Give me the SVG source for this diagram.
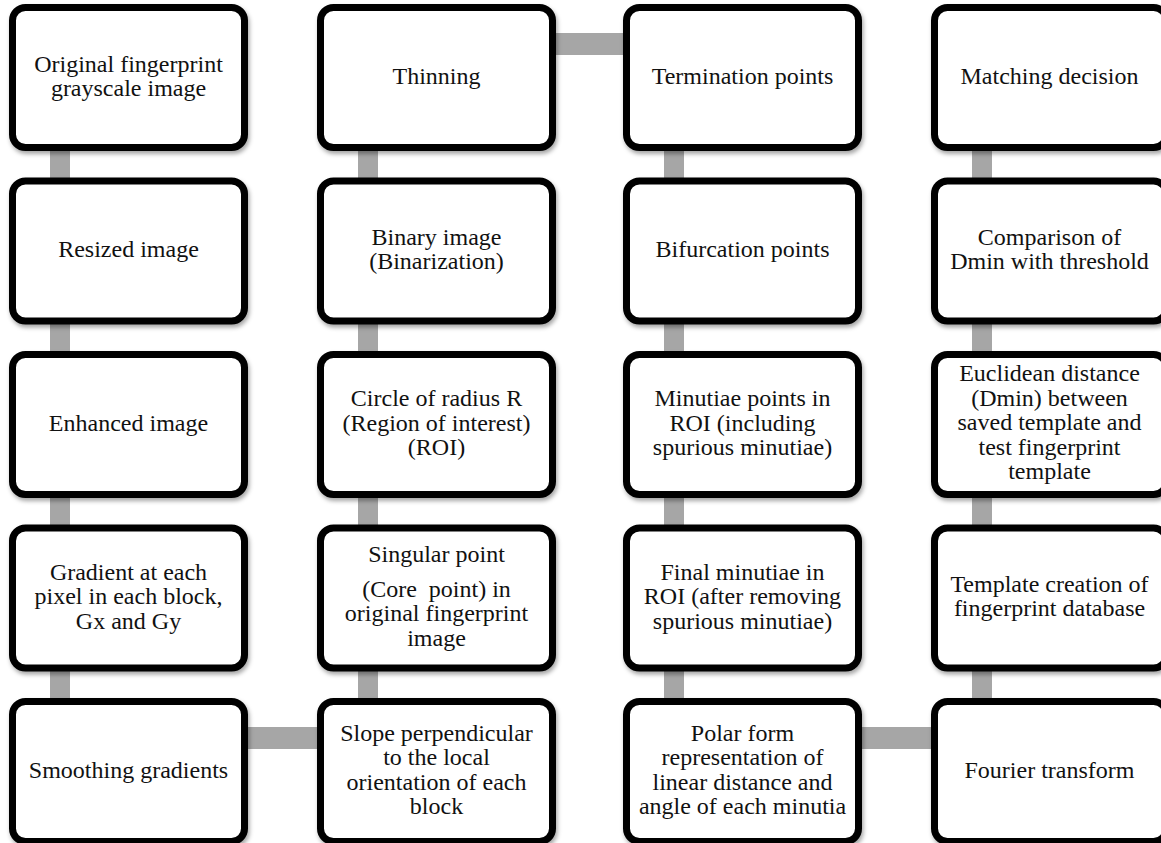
<svg xmlns="http://www.w3.org/2000/svg" width="1161" height="843" viewBox="0 0 1161 843">
<style>
.box{fill:#fff;stroke:#000;stroke-width:7}
.t{font-family:"Liberation Serif","Times New Roman",serif;font-size:24px;fill:#111;text-anchor:middle}
.c{fill:#a6a6a6}
</style>
<defs>
<filter id="sh" x="-10%" y="-10%" width="125%" height="130%">
<feDropShadow dx="1.5" dy="3" stdDeviation="2" flood-color="#000" flood-opacity="0.35"/>
</filter>
</defs>
<rect width="1161" height="843" fill="#fff"/>
<g id="connectors">
<rect class="c" x="50" y="144" width="20" height="41"/>
<rect class="c" x="50" y="318" width="20" height="40"/>
<rect class="c" x="50" y="491" width="20" height="41"/>
<rect class="c" x="50" y="665" width="20" height="40"/>
<rect class="c" x="358" y="144" width="20" height="41"/>
<rect class="c" x="358" y="318" width="20" height="40"/>
<rect class="c" x="358" y="491" width="20" height="41"/>
<rect class="c" x="358" y="665" width="20" height="40"/>
<rect class="c" x="664" y="144" width="20" height="41"/>
<rect class="c" x="664" y="318" width="20" height="40"/>
<rect class="c" x="664" y="491" width="20" height="41"/>
<rect class="c" x="664" y="665" width="20" height="40"/>
<rect class="c" x="972" y="144" width="20" height="41"/>
<rect class="c" x="972" y="318" width="20" height="40"/>
<rect class="c" x="972" y="491" width="20" height="41"/>
<rect class="c" x="972" y="665" width="20" height="40"/>
<rect class="c" x="550" y="33" width="78" height="22"/>
<rect class="c" x="244" y="727" width="78" height="22"/>
<rect class="c" x="858" y="727" width="78" height="22"/>
</g>
<g id="n11"><rect class="box" filter="url(#sh)" x="12.5" y="7.5" width="232" height="140" rx="13"/>
<text class="t"><tspan x="128.5" y="71.5">Original fingerprint</tspan><tspan x="128.5" y="96">grayscale image</tspan></text></g>
<g id="n21"><rect class="box" filter="url(#sh)" x="12.5" y="181" width="232" height="140" rx="13"/>
<text class="t" x="128.5" y="257">Resized image</text></g>
<g id="n31"><rect class="box" filter="url(#sh)" x="12.5" y="354.5" width="232" height="140" rx="13"/>
<text class="t" x="128.5" y="430.5">Enhanced image</text></g>
<g id="n41"><rect class="box" filter="url(#sh)" x="12.5" y="528" width="232" height="140" rx="13"/>
<text class="t"><tspan x="128.5" y="579.5">Gradient at each</tspan><tspan x="128.5" y="604">pixel in each block,</tspan><tspan x="128.5" y="628.5">Gx and Gy</tspan></text></g>
<g id="n51"><rect class="box" filter="url(#sh)" x="12.5" y="701.5" width="232" height="140" rx="13"/>
<text class="t" x="128.5" y="777.5">Smoothing gradients</text></g>

<g id="n12"><rect class="box" filter="url(#sh)" x="320.5" y="7.5" width="232" height="140" rx="13"/>
<text class="t" x="436.5" y="83.5">Thinning</text></g>
<g id="n22"><rect class="box" filter="url(#sh)" x="320.5" y="181" width="232" height="140" rx="13"/>
<text class="t"><tspan x="436.5" y="244.75">Binary image</tspan><tspan x="436.5" y="269.25">(Binarization)</tspan></text></g>
<g id="n32"><rect class="box" filter="url(#sh)" x="320.5" y="354.5" width="232" height="140" rx="13"/>
<text class="t"><tspan x="436.5" y="406">Circle of radius R</tspan><tspan x="436.5" y="430.5">(Region of interest)</tspan><tspan x="436.5" y="455">(ROI)</tspan></text></g>
<g id="n42"><rect class="box" filter="url(#sh)" x="320.5" y="528" width="232" height="140" rx="13"/>
<text class="t"><tspan x="436.5" y="562">Singular point</tspan><tspan x="436.5" y="596.5">(Core&#160; point) in</tspan><tspan x="436.5" y="621">original fingerprint</tspan><tspan x="436.5" y="645.5">image</tspan></text></g>
<g id="n52"><rect class="box" filter="url(#sh)" x="320.5" y="701.5" width="232" height="140" rx="13"/>
<text class="t"><tspan x="436.5" y="740.75">Slope perpendicular</tspan><tspan x="436.5" y="765.25">to the local</tspan><tspan x="436.5" y="789.75">orientation of each</tspan><tspan x="436.5" y="814.25">block</tspan></text></g>

<g id="n13"><rect class="box" filter="url(#sh)" x="626.5" y="7.5" width="232" height="140" rx="13"/>
<text class="t" x="742.5" y="83.5">Termination points</text></g>
<g id="n23"><rect class="box" filter="url(#sh)" x="626.5" y="181" width="232" height="140" rx="13"/>
<text class="t" x="742.5" y="257">Bifurcation points</text></g>
<g id="n33"><rect class="box" filter="url(#sh)" x="626.5" y="354.5" width="232" height="140" rx="13"/>
<text class="t"><tspan x="742.5" y="406">Minutiae points in</tspan><tspan x="742.5" y="430.5">ROI (including</tspan><tspan x="742.5" y="455">spurious minutiae)</tspan></text></g>
<g id="n43"><rect class="box" filter="url(#sh)" x="626.5" y="528" width="232" height="140" rx="13"/>
<text class="t"><tspan x="742.5" y="579.5">Final minutiae in</tspan><tspan x="742.5" y="604">ROI (after removing</tspan><tspan x="742.5" y="628.5">spurious minutiae)</tspan></text></g>
<g id="n53"><rect class="box" filter="url(#sh)" x="626.5" y="701.5" width="232" height="140" rx="13"/>
<text class="t"><tspan x="742.5" y="740.75">Polar form</tspan><tspan x="742.5" y="765.25">representation of</tspan><tspan x="742.5" y="789.75">linear distance and</tspan><tspan x="742.5" y="814.25">angle of each minutia</tspan></text></g>

<g id="n14"><rect class="box" filter="url(#sh)" x="934.5" y="7.5" width="232" height="140" rx="13"/>
<text class="t" x="1049.5" y="83.5">Matching decision</text></g>
<g id="n24"><rect class="box" filter="url(#sh)" x="934.5" y="181" width="232" height="140" rx="13"/>
<text class="t"><tspan x="1049.5" y="244.75">Comparison of</tspan><tspan x="1049.5" y="269.25">Dmin with threshold</tspan></text></g>
<g id="n34"><rect class="box" filter="url(#sh)" x="934.5" y="354.5" width="232" height="140" rx="13"/>
<text class="t"><tspan x="1049.5" y="381">Euclidean distance</tspan><tspan x="1049.5" y="405.5">(Dmin) between</tspan><tspan x="1049.5" y="430">saved template and</tspan><tspan x="1049.5" y="454.5">test fingerprint</tspan><tspan x="1049.5" y="479">template</tspan></text></g>
<g id="n44"><rect class="box" filter="url(#sh)" x="934.5" y="528" width="232" height="140" rx="13"/>
<text class="t"><tspan x="1049.5" y="591.75">Template creation of</tspan><tspan x="1049.5" y="616.25">fingerprint database</tspan></text></g>
<g id="n54"><rect class="box" filter="url(#sh)" x="934.5" y="701.5" width="232" height="140" rx="13"/>
<text class="t" x="1049.5" y="777.5">Fourier transform</text></g>
</svg>
